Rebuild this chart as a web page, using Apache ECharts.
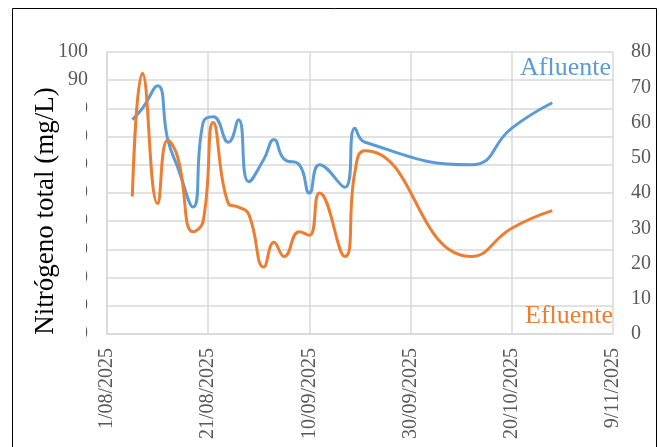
<!DOCTYPE html>
<html>
<head>
<meta charset="utf-8">
<script src="https://cdn.jsdelivr.net/npm/echarts@6/dist/echarts.min.js"></script>
<style>
  html, body { margin: 0; padding: 0; background: #fff; }
  #chart { width: 659px; height: 447px; }
</style>
</head>
<body>
<div id="chart"></div>
<script>
// days counted from 1/08/2025
var sampleDays = [5, 7, 10, 12, 14, 17, 19, 21, 24, 26, 28, 31, 33, 35, 38, 40, 42, 47, 49, 51, 72, 80, 88];
var afluente = [76, 80, 88, 69, 59, 45, 75, 77, 68, 76, 54, 62, 69, 62, 60, 50, 60, 52, 73, 68, 60, 73, 82];
var efluente = [39, 74, 37, 55, 50, 29, 32, 60, 37, 36, 34, 19, 26, 22, 29, 28, 40, 22, 46, 52, 22, 30, 35];
var xTickLabels = ['1/08/2025', '21/08/2025', '10/09/2025', '30/09/2025', '20/10/2025', '9/11/2025'];

var serif = '"Liberation Serif", "DejaVu Serif", serif';
var chart = echarts.init(document.getElementById('chart'), null, { renderer: 'canvas' });

function pairs(vals) {
  return sampleDays.map(function (d, i) { return [d, vals[i]]; });
}

var option = {
  animation: false,
  grid: { left: 107, right: 46, top: 52, bottom: 113, containLabel: false },
  xAxis: {
    type: 'value',
    min: 0,
    max: 100,
    interval: 20,
    axisLine: { show: true, lineStyle: { color: '#D9D9D9', width: 1.5 } },
    axisTick: { show: false },
    splitLine: { show: true, lineStyle: { color: '#D9D9D9', width: 1.5 } },
    axisLabel: {
      rotate: 90,
      margin: 14,
      color: '#595959',
      fontFamily: serif,
      fontSize: 20,
      formatter: function (v) { return xTickLabels[Math.round(v / 20)]; }
    }
  },
  yAxis: [{
    type: 'value',
    min: 0,
    max: 100,
    interval: 10,
    axisLine: { show: true, lineStyle: { color: '#D9D9D9', width: 1.5 } },
    axisTick: { show: false },
    splitLine: { show: true, lineStyle: { color: '#D9D9D9', width: 1.5 } },
    axisLabel: { color: '#595959', fontFamily: serif, fontSize: 20, margin: 19 }
  }, {
    type: 'value',
    min: 0,
    max: 80,
    interval: 10,
    position: 'right',
    axisLine: { show: false },
    axisTick: { show: false },
    splitLine: { show: false },
    axisLabel: { color: '#595959', fontFamily: serif, fontSize: 20, margin: 18 }
  }],
  series: [{
    name: 'Afluente',
    type: 'line',
    yAxisIndex: 0,
    data: pairs(afluente),
    smooth: 0.5,
    showSymbol: false,
    lineStyle: { color: '#5B9BD5', width: 3 },
    itemStyle: { color: '#5B9BD5' },
    z: 3
  }, {
    name: 'Efluente',
    type: 'line',
    yAxisIndex: 1,
    data: pairs(efluente),
    smooth: 0.5,
    showSymbol: false,
    lineStyle: { color: '#ED7D31', width: 3 },
    itemStyle: { color: '#ED7D31' },
    z: 4
  }],
  graphic: [
    {
      type: 'rect', z: 100, silent: true,
      shape: { x: 12.5, y: 8.5, width: 644, height: 450 },
      style: { fill: null, stroke: '#000', lineWidth: 1 }
    },
    {
      type: 'rect', z: 100, silent: true,
      shape: { x: 15, y: 96, width: 71, height: 250 },
      style: { fill: '#fff' }
    },
    {
      type: 'text', z: 101, silent: true,
      x: 46, y: 211, rotation: Math.PI / 2,
      style: {
        text: 'Nitrógeno total (mg/L)',
        fill: '#000', font: '27px ' + serif,
        align: 'center', verticalAlign: 'middle'
      }
    },
    {
      type: 'text', z: 101, silent: true,
      x: 520, y: 68,
      style: {
        text: 'Afluente', fill: '#5B9BD5', font: '26px ' + serif,
        align: 'left', verticalAlign: 'middle'
      }
    },
    {
      type: 'text', z: 101, silent: true,
      x: 525, y: 316,
      style: {
        text: 'Efluente', fill: '#ED7D31', font: '26px ' + serif,
        align: 'left', verticalAlign: 'middle'
      }
    }
  ]
};

chart.setOption(option);
</script>
</body>
</html>
